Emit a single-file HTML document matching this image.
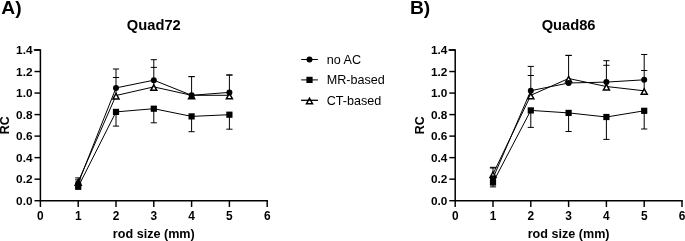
<!DOCTYPE html>
<html><head><meta charset="utf-8"><title>Quad72 / Quad86 RC</title>
<style>
html,body{margin:0;padding:0;background:#fff;}
svg{display:block;font-family:"Liberation Sans", sans-serif;fill:#000;filter:blur(0.3px);}
</style></head>
<body>
<svg width="685" height="241" viewBox="0 0 685 241">
<rect width="685" height="241" fill="#fff"/>
<text transform="translate(1.3 13.9) scale(1.07 1)" font-size="18" font-weight="bold">A)</text>
<text x="153.8" y="30.1" font-size="14.7" font-weight="bold" text-anchor="middle">Quad72</text>
<path d="M34.50 50.0H40.40V200.7H267.20" fill="none" stroke="#000" stroke-width="1.5" stroke-linecap="square" stroke-linejoin="miter"/>
<line x1="34.50" y1="200.70" x2="40.40" y2="200.70" stroke="#000" stroke-width="1.45"/>
<text x="32.50" y="204.70" font-size="11.8" font-weight="bold" text-anchor="end">0.0</text>
<line x1="34.50" y1="179.17" x2="40.40" y2="179.17" stroke="#000" stroke-width="1.45"/>
<text x="32.50" y="183.17" font-size="11.8" font-weight="bold" text-anchor="end">0.2</text>
<line x1="34.50" y1="157.64" x2="40.40" y2="157.64" stroke="#000" stroke-width="1.45"/>
<text x="32.50" y="161.64" font-size="11.8" font-weight="bold" text-anchor="end">0.4</text>
<line x1="34.50" y1="136.11" x2="40.40" y2="136.11" stroke="#000" stroke-width="1.45"/>
<text x="32.50" y="140.11" font-size="11.8" font-weight="bold" text-anchor="end">0.6</text>
<line x1="34.50" y1="114.59" x2="40.40" y2="114.59" stroke="#000" stroke-width="1.45"/>
<text x="32.50" y="118.59" font-size="11.8" font-weight="bold" text-anchor="end">0.8</text>
<line x1="34.50" y1="93.06" x2="40.40" y2="93.06" stroke="#000" stroke-width="1.45"/>
<text x="32.50" y="97.06" font-size="11.8" font-weight="bold" text-anchor="end">1.0</text>
<line x1="34.50" y1="71.53" x2="40.40" y2="71.53" stroke="#000" stroke-width="1.45"/>
<text x="32.50" y="75.53" font-size="11.8" font-weight="bold" text-anchor="end">1.2</text>
<line x1="34.50" y1="50.00" x2="40.40" y2="50.00" stroke="#000" stroke-width="1.45"/>
<text x="32.50" y="54.00" font-size="11.8" font-weight="bold" text-anchor="end">1.4</text>
<line x1="40.40" y1="200.7" x2="40.40" y2="207.00" stroke="#000" stroke-width="1.45"/>
<text x="40.40" y="219.7" font-size="11.9" font-weight="bold" text-anchor="middle">0</text>
<line x1="78.20" y1="200.7" x2="78.20" y2="207.00" stroke="#000" stroke-width="1.45"/>
<text x="78.20" y="219.7" font-size="11.9" font-weight="bold" text-anchor="middle">1</text>
<line x1="116.00" y1="200.7" x2="116.00" y2="207.00" stroke="#000" stroke-width="1.45"/>
<text x="116.00" y="219.7" font-size="11.9" font-weight="bold" text-anchor="middle">2</text>
<line x1="153.80" y1="200.7" x2="153.80" y2="207.00" stroke="#000" stroke-width="1.45"/>
<text x="153.80" y="219.7" font-size="11.9" font-weight="bold" text-anchor="middle">3</text>
<line x1="191.60" y1="200.7" x2="191.60" y2="207.00" stroke="#000" stroke-width="1.45"/>
<text x="191.60" y="219.7" font-size="11.9" font-weight="bold" text-anchor="middle">4</text>
<line x1="229.40" y1="200.7" x2="229.40" y2="207.00" stroke="#000" stroke-width="1.45"/>
<text x="229.40" y="219.7" font-size="11.9" font-weight="bold" text-anchor="middle">5</text>
<line x1="267.20" y1="200.7" x2="267.20" y2="207.00" stroke="#000" stroke-width="1.45"/>
<text x="267.20" y="219.7" font-size="11.9" font-weight="bold" text-anchor="middle">6</text>
<text x="153.8" y="238.2" font-size="12.6" font-weight="bold" text-anchor="middle">rod size (mm)</text>
<text transform="translate(9.3 125.2) rotate(-90)" font-size="12.4" font-weight="bold" text-anchor="middle">RC</text>
<path d="M78.20 183.30V177.90M75.10 177.90H81.30M75.10 179.90H81.30" fill="none" stroke="#000" stroke-width="1.0"/>
<path d="M116.00 95.50V69.00M112.90 69.00H119.10M112.90 77.50H119.10" fill="none" stroke="#000" stroke-width="1.0"/>
<path d="M153.80 86.90V59.70M150.70 59.70H156.90M150.70 67.40H156.90" fill="none" stroke="#000" stroke-width="1.0"/>
<path d="M191.60 95.30V76.60M188.50 76.60H194.70M188.50 76.60H194.70" fill="none" stroke="#000" stroke-width="1.0"/>
<path d="M229.40 95.30V75.00M226.30 75.00H232.50M226.30 75.00H232.50" fill="none" stroke="#000" stroke-width="1.0"/>

<path d="M116.00 111.90V126.10M112.90 126.10H119.10" fill="none" stroke="#000" stroke-width="1.0"/>
<path d="M153.80 108.70V122.80M150.70 122.80H156.90" fill="none" stroke="#000" stroke-width="1.0"/>
<path d="M191.60 116.40V131.70M188.50 131.70H194.70" fill="none" stroke="#000" stroke-width="1.0"/>
<path d="M229.40 114.70V129.20M226.30 129.20H232.50" fill="none" stroke="#000" stroke-width="1.0"/>
<polyline points="78.20,183.30 116.00,87.90 153.80,80.20 191.60,95.30 229.40,92.40" fill="none" stroke="#000" stroke-width="1.0"/>
<polyline points="78.20,186.80 116.00,111.90 153.80,108.70 191.60,116.40 229.40,114.70" fill="none" stroke="#000" stroke-width="1.0"/>
<polyline points="78.20,181.80 116.00,95.50 153.80,86.90 191.60,95.30 229.40,95.30" fill="none" stroke="#000" stroke-width="1.0"/>
<path d="M78.20 179.78L81.20 185.18H75.20Z" fill="#fff" stroke="#000" stroke-width="1.5"/>
<path d="M116.00 93.47L119.00 98.88H113.00Z" fill="#fff" stroke="#000" stroke-width="1.5"/>
<path d="M153.80 84.88L156.80 90.28H150.80Z" fill="#fff" stroke="#000" stroke-width="1.5"/>
<path d="M191.60 93.27L194.60 98.67H188.60Z" fill="#fff" stroke="#000" stroke-width="1.5"/>
<path d="M229.40 93.27L232.40 98.67H226.40Z" fill="#fff" stroke="#000" stroke-width="1.5"/>
<circle cx="78.20" cy="183.30" r="3.0" fill="#000"/>
<circle cx="116.00" cy="87.90" r="3.0" fill="#000"/>
<circle cx="153.80" cy="80.20" r="3.0" fill="#000"/>
<circle cx="191.60" cy="95.30" r="3.0" fill="#000"/>
<circle cx="229.40" cy="92.40" r="3.0" fill="#000"/>
<rect x="75.10" y="183.70" width="6.2" height="6.2" fill="#000"/>
<rect x="112.90" y="108.80" width="6.2" height="6.2" fill="#000"/>
<rect x="150.70" y="105.60" width="6.2" height="6.2" fill="#000"/>
<rect x="188.50" y="113.30" width="6.2" height="6.2" fill="#000"/>
<rect x="226.30" y="111.60" width="6.2" height="6.2" fill="#000"/>
<line x1="301.2" y1="59.50" x2="317.9" y2="59.50" stroke="#000" stroke-width="1.0"/>
<circle cx="309.5" cy="59.50" r="3.0" fill="#000"/>
<text x="326.7" y="64.00" font-size="12.6">no AC</text>
<line x1="301.2" y1="79.90" x2="317.9" y2="79.90" stroke="#000" stroke-width="1.0"/>
<rect x="306.4" y="76.80" width="6.2" height="6.2" fill="#000"/>
<text x="326.7" y="84.40" font-size="12.6">MR-based</text>
<line x1="301.2" y1="100.30" x2="317.9" y2="100.30" stroke="#000" stroke-width="1.0"/>
<path d="M309.50 98.27L312.50 103.67H306.50Z" fill="#fff" stroke="#000" stroke-width="1.5"/>
<line x1="301.2" y1="100.30" x2="317.9" y2="100.30" stroke="#000" stroke-width="1.0"/>
<text x="326.7" y="104.80" font-size="12.6">CT-based</text>
<text transform="translate(409.9 13.9) scale(1.07 1)" font-size="18" font-weight="bold">B)</text>
<text x="568.6" y="30.1" font-size="14.7" font-weight="bold" text-anchor="middle">Quad86</text>
<path d="M449.30 50.0H455.20V200.7H682.00" fill="none" stroke="#000" stroke-width="1.5" stroke-linecap="square" stroke-linejoin="miter"/>
<line x1="449.30" y1="200.70" x2="455.20" y2="200.70" stroke="#000" stroke-width="1.45"/>
<text x="447.30" y="204.70" font-size="11.8" font-weight="bold" text-anchor="end">0.0</text>
<line x1="449.30" y1="179.17" x2="455.20" y2="179.17" stroke="#000" stroke-width="1.45"/>
<text x="447.30" y="183.17" font-size="11.8" font-weight="bold" text-anchor="end">0.2</text>
<line x1="449.30" y1="157.64" x2="455.20" y2="157.64" stroke="#000" stroke-width="1.45"/>
<text x="447.30" y="161.64" font-size="11.8" font-weight="bold" text-anchor="end">0.4</text>
<line x1="449.30" y1="136.11" x2="455.20" y2="136.11" stroke="#000" stroke-width="1.45"/>
<text x="447.30" y="140.11" font-size="11.8" font-weight="bold" text-anchor="end">0.6</text>
<line x1="449.30" y1="114.59" x2="455.20" y2="114.59" stroke="#000" stroke-width="1.45"/>
<text x="447.30" y="118.59" font-size="11.8" font-weight="bold" text-anchor="end">0.8</text>
<line x1="449.30" y1="93.06" x2="455.20" y2="93.06" stroke="#000" stroke-width="1.45"/>
<text x="447.30" y="97.06" font-size="11.8" font-weight="bold" text-anchor="end">1.0</text>
<line x1="449.30" y1="71.53" x2="455.20" y2="71.53" stroke="#000" stroke-width="1.45"/>
<text x="447.30" y="75.53" font-size="11.8" font-weight="bold" text-anchor="end">1.2</text>
<line x1="449.30" y1="50.00" x2="455.20" y2="50.00" stroke="#000" stroke-width="1.45"/>
<text x="447.30" y="54.00" font-size="11.8" font-weight="bold" text-anchor="end">1.4</text>
<line x1="455.20" y1="200.7" x2="455.20" y2="207.00" stroke="#000" stroke-width="1.45"/>
<text x="455.20" y="219.7" font-size="11.9" font-weight="bold" text-anchor="middle">0</text>
<line x1="493.00" y1="200.7" x2="493.00" y2="207.00" stroke="#000" stroke-width="1.45"/>
<text x="493.00" y="219.7" font-size="11.9" font-weight="bold" text-anchor="middle">1</text>
<line x1="530.80" y1="200.7" x2="530.80" y2="207.00" stroke="#000" stroke-width="1.45"/>
<text x="530.80" y="219.7" font-size="11.9" font-weight="bold" text-anchor="middle">2</text>
<line x1="568.60" y1="200.7" x2="568.60" y2="207.00" stroke="#000" stroke-width="1.45"/>
<text x="568.60" y="219.7" font-size="11.9" font-weight="bold" text-anchor="middle">3</text>
<line x1="606.40" y1="200.7" x2="606.40" y2="207.00" stroke="#000" stroke-width="1.45"/>
<text x="606.40" y="219.7" font-size="11.9" font-weight="bold" text-anchor="middle">4</text>
<line x1="644.20" y1="200.7" x2="644.20" y2="207.00" stroke="#000" stroke-width="1.45"/>
<text x="644.20" y="219.7" font-size="11.9" font-weight="bold" text-anchor="middle">5</text>
<line x1="682.00" y1="200.7" x2="682.00" y2="207.00" stroke="#000" stroke-width="1.45"/>
<text x="682.00" y="219.7" font-size="11.9" font-weight="bold" text-anchor="middle">6</text>
<text x="568.6" y="238.2" font-size="12.6" font-weight="bold" text-anchor="middle">rod size (mm)</text>
<text transform="translate(424.1 125.2) rotate(-90)" font-size="12.4" font-weight="bold" text-anchor="middle">RC</text>
<path d="M493.00 178.20V167.30M489.90 168.00H496.10M489.90 167.30H496.10" fill="none" stroke="#000" stroke-width="1.0"/>
<path d="M530.80 95.30V66.40M527.70 66.40H533.90M527.70 75.50H533.90" fill="none" stroke="#000" stroke-width="1.0"/>
<path d="M568.60 83.00V55.40M565.50 55.40H571.70M565.50 55.40H571.70" fill="none" stroke="#000" stroke-width="1.0"/>
<path d="M606.40 86.50V60.70M603.30 60.70H609.50M603.30 65.30H609.50" fill="none" stroke="#000" stroke-width="1.0"/>
<path d="M644.20 90.80V54.50M641.10 54.50H647.30M641.10 70.50H647.30" fill="none" stroke="#000" stroke-width="1.0"/>
<path d="M493.00 182.50V186.90M489.90 186.90H496.10" fill="none" stroke="#000" stroke-width="1.0"/>
<path d="M530.80 110.40V127.40M527.70 127.40H533.90" fill="none" stroke="#000" stroke-width="1.0"/>
<path d="M568.60 112.90V131.50M565.50 131.50H571.70" fill="none" stroke="#000" stroke-width="1.0"/>
<path d="M606.40 117.00V139.40M603.30 139.40H609.50" fill="none" stroke="#000" stroke-width="1.0"/>
<path d="M644.20 110.80V129.00M641.10 129.00H647.30" fill="none" stroke="#000" stroke-width="1.0"/>
<polyline points="493.00,178.20 530.80,90.70 568.60,83.00 606.40,82.10 644.20,79.80" fill="none" stroke="#000" stroke-width="1.0"/>
<polyline points="493.00,182.50 530.80,110.40 568.60,112.90 606.40,117.00 644.20,110.80" fill="none" stroke="#000" stroke-width="1.0"/>
<polyline points="493.00,174.00 530.80,95.30 568.60,78.50 606.40,86.50 644.20,90.80" fill="none" stroke="#000" stroke-width="1.0"/>
<path d="M493.00 171.98L496.00 177.38H490.00Z" fill="#fff" stroke="#000" stroke-width="1.5"/>
<path d="M530.80 93.27L533.80 98.67H527.80Z" fill="#fff" stroke="#000" stroke-width="1.5"/>
<path d="M568.60 76.47L571.60 81.88H565.60Z" fill="#fff" stroke="#000" stroke-width="1.5"/>
<path d="M606.40 84.47L609.40 89.88H603.40Z" fill="#fff" stroke="#000" stroke-width="1.5"/>
<path d="M644.20 88.77L647.20 94.17H641.20Z" fill="#fff" stroke="#000" stroke-width="1.5"/>
<circle cx="493.00" cy="178.20" r="3.0" fill="#000"/>
<circle cx="530.80" cy="90.70" r="3.0" fill="#000"/>
<circle cx="568.60" cy="83.00" r="3.0" fill="#000"/>
<circle cx="606.40" cy="82.10" r="3.0" fill="#000"/>
<circle cx="644.20" cy="79.80" r="3.0" fill="#000"/>
<rect x="489.90" y="179.40" width="6.2" height="6.2" fill="#000"/>
<rect x="527.70" y="107.30" width="6.2" height="6.2" fill="#000"/>
<rect x="565.50" y="109.80" width="6.2" height="6.2" fill="#000"/>
<rect x="603.30" y="113.90" width="6.2" height="6.2" fill="#000"/>
<rect x="641.10" y="107.70" width="6.2" height="6.2" fill="#000"/>
</svg>
</body></html>
